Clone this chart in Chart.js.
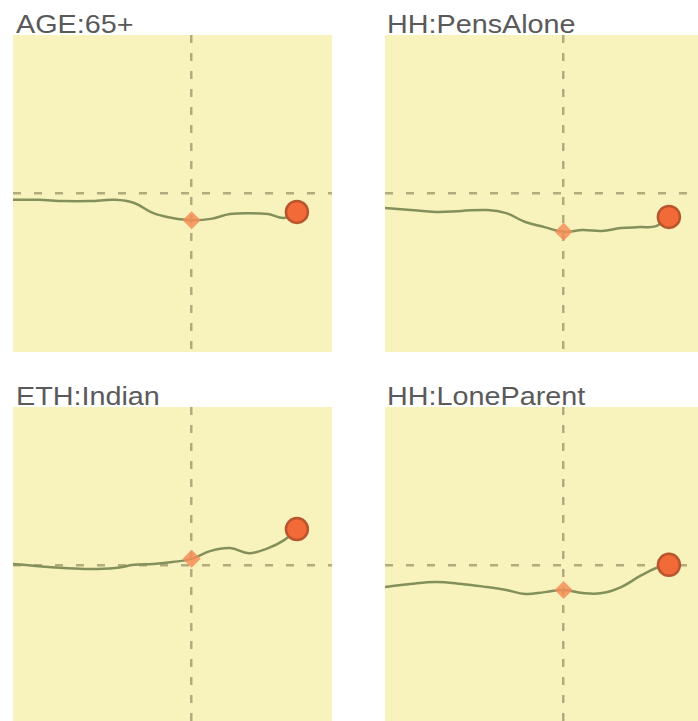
<!DOCTYPE html>
<html>
<head>
<meta charset="utf-8">
<script src="https://cdn.jsdelivr.net/npm/chart.js@4.4.1/dist/chart.umd.min.js"></script>
<style>
  html, body { margin: 0; padding: 0; background: #fff; overflow: hidden; }
  body { width: 698px; height: 721px; position: relative; }
  .panel-title {
    position: absolute;
    font-family: "Liberation Sans", Arial, sans-serif;
    font-size: 25px;
    line-height: 29px;
    color: #5a5a5a;
    white-space: nowrap;
    transform: scaleX(1.15);
    transform-origin: left top;
  }
  .panel { position: absolute; width: 319px; height: 317px; background: #f8f3bd; }
  .panel canvas { display: block; }
</style>
</head>
<body>
<div class="panel-title" id="title-0" style="left:16px; top:10px;"></div>
<div class="panel-title" id="title-1" style="left:387px; top:10px;"></div>
<div class="panel-title" id="title-2" style="left:16px; top:382px;"></div>
<div class="panel-title" id="title-3" style="left:387px; top:382px;"></div>

<div class="panel" style="left:13px; top:35px;"><canvas id="chart-0" width="319" height="317"></canvas></div>
<div class="panel" style="left:385px; top:35px;"><canvas id="chart-1" width="319" height="317"></canvas></div>
<div class="panel" style="left:13px; top:407px;"><canvas id="chart-2" width="319" height="317"></canvas></div>
<div class="panel" style="left:385px; top:407px;"><canvas id="chart-3" width="319" height="317"></canvas></div>

<script>
// time steps (0 = current position, dashed vertical line)
const steps = [-56, -48, -40, -32, -24, -18, -12, -6, 0, 6, 12, 18, 24, 29, 33];

const titles = ["AGE:65+", "HH:PensAlone", "ETH:Indian", "HH:LoneParent"];

const age65 = [-2.0, -2.0, -2.4, -2.4, -2.0, -3.0, -6.2, -7.7, -8.4, -8.0, -6.5, -6.2, -6.5, -7.7, -5.8];
const pensAlone = [-4.6, -5.2, -5.8, -5.5, -5.2, -6.2, -9.0, -10.6, -12.1, -11.5, -11.8, -10.9, -10.6, -10.3, -7.4];
const indian = [0.5, -0.2, -0.8, -1.1, -0.8, 0.2, 0.5, 1.1, 2.1, 4.6, 5.5, 3.9, 5.5, 8.0, 11.5];
const loneParent = [-6.8, -5.8, -5.2, -5.8, -6.8, -7.7, -9.0, -8.4, -7.7, -8.7, -8.7, -6.8, -3.3, -0.8, 0.2];

const series = [age65, pensAlone, indian, loneParent];

const onlyZero = (scale) => {
  scale.ticks = [{ value: 0 }];
};

function makeChart(canvas, values) {
  const points = steps.map((x, i) => ({ x: x, y: values[i] }));
  const nowIndex = steps.indexOf(0);

  return new Chart(canvas, {
    type: "line",
    data: {
      datasets: [
        {
          data: points,
          borderColor: "#83905c",
          borderWidth: 2.5,
          tension: 0.4,
          pointRadius: 0,
          clip: false,
          order: 2,
        },
        {
          data: [points[nowIndex]],
          showLine: false,
          pointStyle: "rectRot",
          pointRadius: 9,
          backgroundColor: "rgba(244,142,88,0.85)",
          borderWidth: 0,
          clip: false,
          order: 1,
        },
        {
          data: [points[points.length - 1]],
          showLine: false,
          pointStyle: "circle",
          pointRadius: 11,
          backgroundColor: "#f26a38",
          borderColor: "#b8552c",
          borderWidth: 2.5,
          clip: false,
          order: 0,
        },
      ],
    },
    options: {
      responsive: false,
      animation: false,
      layout: { padding: 0, autoPadding: false },
      plugins: {
        legend: { display: false },
        tooltip: { enabled: false },
      },
      scales: {
        x: {
          type: "linear",
          min: -56,
          max: 44,
          afterBuildTicks: onlyZero,
          ticks: { display: false },
          grid: {
            color: "rgba(160,152,110,0.8)",
            lineWidth: 2.5,
            drawTicks: false,
          },
          border: { display: false, dash: [8, 10] },
        },
        y: {
          min: -50,
          max: 50,
          afterBuildTicks: onlyZero,
          ticks: { display: false },
          grid: {
            color: "rgba(160,152,110,0.8)",
            lineWidth: 2.5,
            drawTicks: false,
          },
          border: { display: false, dash: [8, 13] },
        },
      },
    },
  });
}

titles.forEach((title, i) => {
  document.getElementById("title-" + i).textContent = title;
  makeChart(document.getElementById("chart-" + i), series[i]);
});
</script>
</body>
</html>
